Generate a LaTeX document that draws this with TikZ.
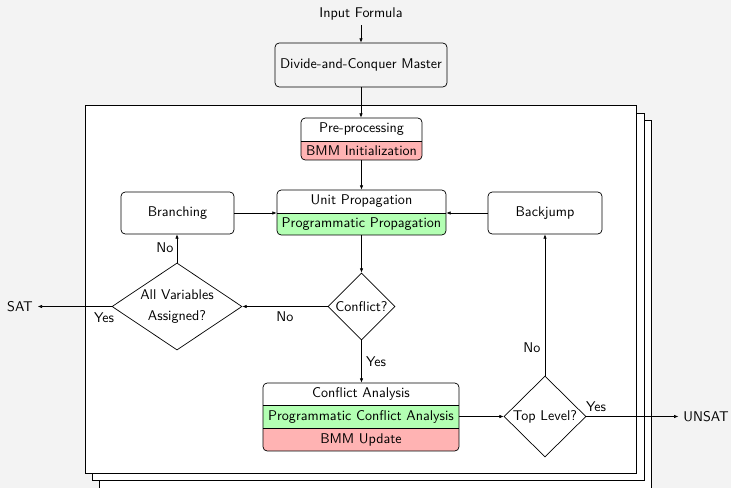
\documentclass[tikz,border=0pt]{standalone}
\usetikzlibrary{shapes.geometric,arrows.meta,fit}
\definecolor{bg}{RGB}{243,243,243}
\definecolor{redc}{RGB}{255,179,179}
\definecolor{greenc}{RGB}{179,255,179}
\begin{document}
\begin{tikzpicture}[x=0.71pt,y=-0.71pt, font=\sffamily,
  arr/.style={-{Latex[length=3pt,width=2.4pt]}},
  box/.style={draw, rounded corners=3pt, inner sep=0pt, line width=0.5pt},
  dia/.style={draw, diamond, fill=white, inner sep=0pt, line width=0.5pt, align=center},
  lbl/.style={inner sep=0pt},
  stack/.style={draw, fill=white, line width=0.6pt, inner sep=0pt},
  divider/.style={line width=0.5pt}]
\useasboundingbox (0,0) rectangle (731,488);
\fill[bg] (0,0) rectangle (731,488);

% stacked layers
\node[stack, fit={(99.6,120.3)(651.3,488)}] (layer3) {};
\node[stack, fit={(92.3,113)(644,480.6)}] (layer2) {};
\node[stack, fit={(85,105.7)(636.7,473.3)}] (layer1) {};

% input and master
\node (input) at (361,14) {Input Formula};
\node[box, fit={(275,43)(447,87)}] (master) {};
\node (mastertxt) at (361,65) {Divide-and-Conquer Master};

% pre-processing
\begin{scope}
  \clip[rounded corners=3pt] (301,118) rectangle (422,160);
  \fill[white] (301,118) rectangle (422,141);
  \fill[redc] (301,141) rectangle (422,160);
\end{scope}
\draw[divider] (301,141) -- (422,141);
\node[box, fit={(301,118)(422,160)}] (pre) {};
\node (pre1) at (361.5,129.5) {Pre-processing};
\node (pre2) at (361.5,150.5) {BMM Initialization};

% unit propagation
\begin{scope}
  \clip[rounded corners=3pt] (277,190) rectangle (446,235);
  \fill[white] (277,190) rectangle (446,213);
  \fill[greenc] (277,213) rectangle (446,235);
\end{scope}
\draw[divider] (277,213) -- (446,213);
\node[box, fit={(277,190)(446,235)}] (up) {};
\node (up1) at (361.5,201.5) {Unit Propagation};
\node (up2) at (361.5,224) {Programmatic Propagation};

% branching / backjump
\node[box, fill=white, fit={(121,192)(234,234)}] (branch) {};
\node (branchtxt) at (177.5,213) {Branching};
\node[box, fill=white, fit={(488,192)(602,234)}] (backjump) {};
\node (backjumptxt) at (545,213) {Backjump};

% diamonds
\node[dia, minimum width=92.3pt, minimum height=61.8pt, aspect=1.48] (av) at (177,306.5) {All Variables\\[2.9pt]Assigned?};
\node[dia, minimum width=47.6pt, minimum height=47.6pt, aspect=1] (conf) at (361.5,306.5) {Conflict?};
\node[dia, minimum width=58.2pt, minimum height=57.5pt, aspect=1] (top) at (545,416.5) {Top Level?};

% conflict analysis
\begin{scope}
  \clip[rounded corners=3pt] (263,383) rectangle (459,451);
  \fill[white] (263,383) rectangle (459,405);
  \fill[greenc] (263,405) rectangle (459,428);
  \fill[redc] (263,428) rectangle (459,451);
\end{scope}
\draw[divider] (263,405) -- (459,405);
\draw[divider] (263,428) -- (459,428);
\node[box, fit={(263,383)(459,451)}] (ca) {};
\node (ca1) at (361,394) {Conflict Analysis};
\node (ca2) at (361,416.5) {Programmatic Conflict Analysis};
\node (ca3) at (361,439.5) {BMM Update};

% outputs
\node (sat) at (20,306.5) {SAT};
\node (unsat) at (706,416.5) {UNSAT};

% connectors
\draw[arr] (input) -- (master);
\draw[arr] (master.south) -- (master.south |- pre.north);
\draw[arr] (pre) -- (up);
\draw[arr] (branch.east) -- (branch.east -| up.west);
\draw[arr] (backjump.west) -- (backjump.west -| up.east);
\draw[arr] (up.south) -- (conf.north);
\draw[arr] (conf.west) -- (av.east);
\draw[arr] (av.north) -- (av.north |- branch.south);
\draw[arr] (av.west) -- (av.west -| sat.east);
\draw[arr] (conf.south) -- (conf.south |- ca.north);
\draw[arr] (ca.east |- top.west) -- (top.west);
\draw[arr] (top.north) -- (top.north |- backjump.south);
\draw[arr] (top.east) -- (top.east -| unsat.west);

% labels
\node (lno1) at (285,317) {No};
\node (lno2) at (165,248) {No};
\node (lyes1) at (104,318) {Yes};
\node (lyes2) at (376,362) {Yes};
\node (lno3) at (532,348) {No};
\node (lyes3) at (596,407) {Yes};
\end{tikzpicture}
\end{document}
